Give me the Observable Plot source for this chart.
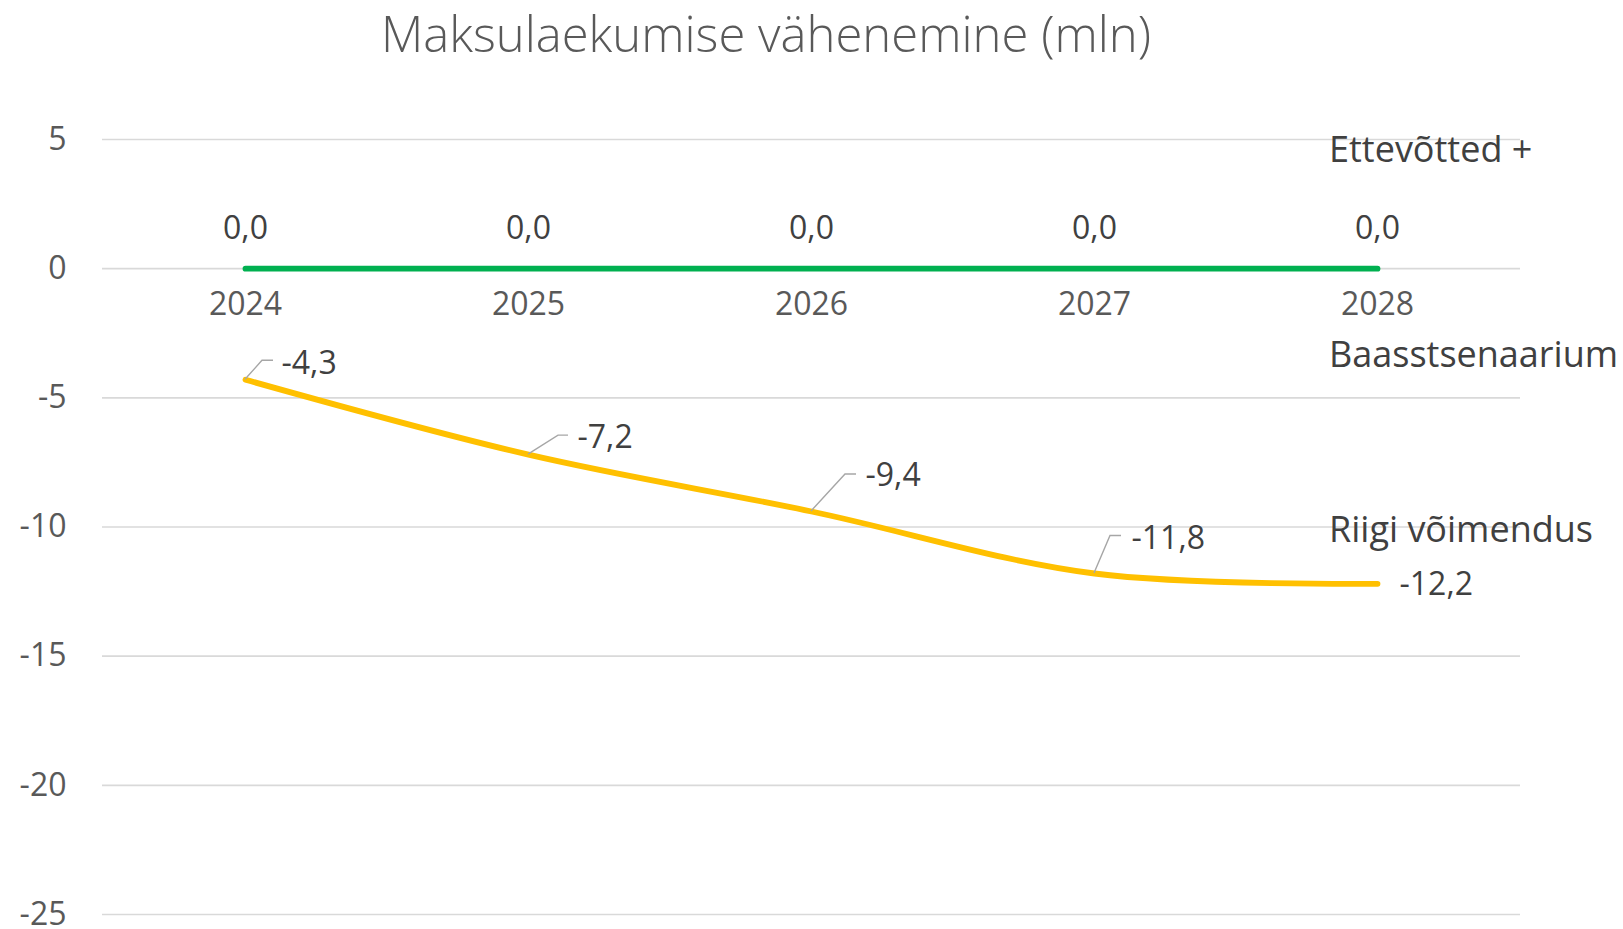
<!DOCTYPE html>
<html>
<head>
<meta charset="utf-8">
<script src="https://cdn.jsdelivr.net/npm/d3@7"></script>
<script src="https://cdn.jsdelivr.net/npm/@observablehq/plot@0.6"></script>
<style>
  body { margin: 0; background: #fff; }
  #wrap { position: relative; width: 1623px; height: 929px; font-family: "Open Sans", sans-serif; overflow: hidden; }
  #title { position: absolute; left: 0; top: 0px; width: 1532px; text-align: center; font-size: 49px; line-height: normal; font-weight: 300; color: #595959; white-space: nowrap; }
  #chart { position: absolute; left: 0; top: 70px; }
  .leg { position: absolute; left: 1329px; font-size: 36px; line-height: 36px; color: #404040; white-space: nowrap; }
</style>
</head>
<body>
<div id="wrap">
  <div id="title">Maksulaekumise vähenemine (mln)</div>
  <div id="chart"></div>
  <div class="leg" id="leg0" style="top:131px"></div>
  <div class="leg" id="leg1" style="top:336px"></div>
  <div class="leg" id="leg2" style="top:511px"></div>
</div>
<script>
// ---- data ----
const years = ["2024", "2025", "2026", "2027", "2028"];
const baseValues = [0, 0, 0, 0, 0];                      // green series
const scenarioValues = [-4.3, -7.2, -9.4, -11.8, -12.2]; // yellow series
const yTicks = [5, 0, -5, -10, -15, -20, -25];
const legendLabels = ["Ettevõtted +", "Baasstsenaarium", "Riigi võimendus"];

// ---- label styling (pixel offsets of data labels / leader lines) ----
const labelStyle = [
  { leader: true, ex: 17, ey: -19, lx: 28, tx: 36, ty: -16 },
  { leader: true, ex: 30, ey: -19, lx: 40, tx: 49, ty: -17 },
  { leader: true, ex: 34, ey: -37, lx: 45, tx: 54, ty: -35.5 },
  { leader: true, ex: 16, ey: -37.5, lx: 27, tx: 37, ty: -35 },
  { leader: false, tx: 22, ty: 1 }
];

const fmt = v => v.toFixed(1).replace(".", ",");
const baseRows = years.map((year, i) => ({ year, value: baseValues[i] }));
const scenRows = years.map((year, i) => ({ year, value: scenarioValues[i], ...labelStyle[i] }));
const leaderRows = scenRows.filter(d => d.leader);

const GREEN = "#00B050", YELLOW = "#FFC000";

const chart = Plot.plot({
  width: 1623,
  height: 859,
  marginLeft: 102,
  marginRight: 103,
  marginTop: 69,
  marginBottom: 15,
  style: { fontFamily: "'Open Sans', sans-serif", fontSize: "32px", background: "transparent" },
  x: { type: "point", domain: years, padding: 0.5, axis: null },
  y: { domain: [-25, 5], axis: null },
  marks: [
    Plot.ruleY(yTicks, { stroke: "#d9d9d9", strokeWidth: 1.6 }),
    Plot.axisY(yTicks, { tickSize: 0, tickPadding: 36, tickFormat: d => String(d), fill: "#595959", fontSize: 32, label: null }),
    Plot.text(years, { x: d => d, y: () => 0, dy: 36.5, text: d => d, fill: "#595959", fontSize: 32 }),
    Plot.line(baseRows, { x: "year", y: "value", stroke: GREEN, strokeWidth: 5.8, strokeLinecap: "round" }),
    Plot.line(scenRows, { x: "year", y: "value", stroke: YELLOW, strokeWidth: 5.8, strokeLinecap: "round", curve: "catmull-rom" }),
    Plot.dot(leaderRows, {
      x: "year", y: "value",
      render: (index, scales, values) => {
        const g = d3.create("svg:g").attr("fill", "none").attr("stroke", "#a6a6a6").attr("stroke-width", 1.4);
        for (const i of index) {
          const d = leaderRows[i];
          const x = values.x[i], y = values.y[i];
          g.append("path").attr("d", `M${x},${y}L${x + d.ex},${y + d.ey}L${x + d.lx},${y + d.ey}`);
        }
        return g.node();
      }
    }),
    Plot.text(baseRows, { x: "year", y: "value", text: d => fmt(d.value), dy: -40, fill: "#404040", fontSize: 32 }),
    ...scenRows.map(d => Plot.text([d], { x: "year", y: "value", text: r => fmt(r.value), dx: d.tx, dy: d.ty, textAnchor: "start", fill: "#404040", fontSize: 32 }))
  ]
});
document.getElementById("chart").appendChild(chart);
legendLabels.forEach((t, i) => { document.getElementById("leg" + i).textContent = t; });
</script>
</body>
</html>
